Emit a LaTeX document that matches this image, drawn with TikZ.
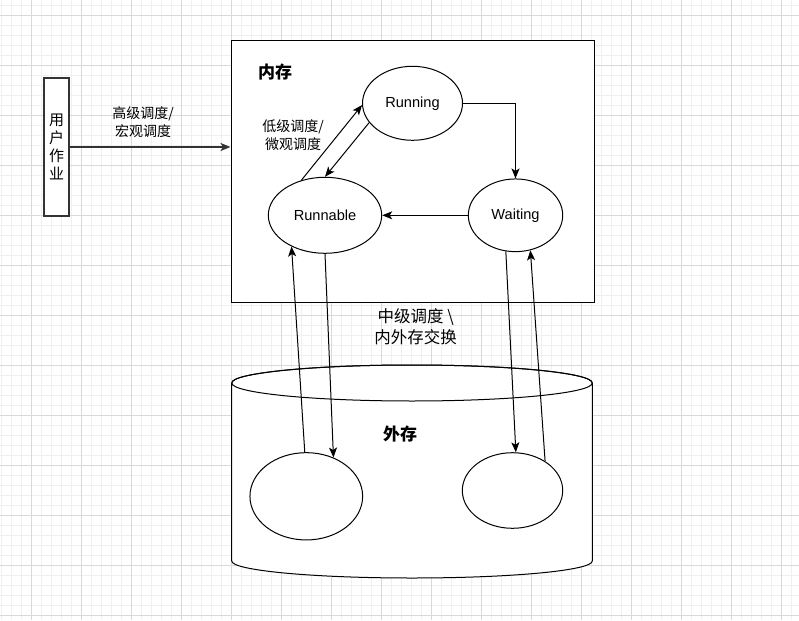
\documentclass[tikz,border=0pt]{standalone}
\usepackage{fontspec}
\setmainfont{Liberation Sans}
\newfontfamily\cjk{Noto Sans CJK SC}
\usetikzlibrary{shapes.geometric,arrows.meta}

\tikzset{
  gridminor/.style={draw=black!6, line width=0.8pt},
  gridmajor/.style={draw=black!15, line width=0.8pt},
  state/.style={ellipse, draw, fill=white, line width=1pt, inner sep=0pt, font=\fontsize{14.6}{17}\selectfont},
  flow/.style={line width=1pt, -{Stealth[length=10pt,width=8pt,inset=2.5pt]}},
  cnlabel/.style={align=center, font=\cjk\fontsize{14}{18}\selectfont},
  title/.style={font=\cjk\bfseries\fontsize{17}{20}\selectfont}
}

\begin{document}
\begin{tikzpicture}[x=1pt, y=-1pt]
\useasboundingbox (0,0) rectangle (799,620);
% grid
\foreach \x in {1.7,11.7,...,799} \draw[gridminor] (\x,0) -- (\x,620);
\foreach \y in {5,15,...,620} \draw[gridminor] (0,\y) -- (799,\y);
\foreach \x in {31.7,81.7,...,799} \draw[gridmajor] (\x,0) -- (\x,620);
\foreach \y in {15,65,...,620} \draw[gridmajor] (0,\y) -- (799,\y);

\node[draw=black!80, line width=1.3pt, fill=white, minimum width=25pt, minimum height=138pt, inner sep=0pt,
      align=center, font=\cjk\fontsize{15}{18}\selectfont] (job) at (56.5,147) {用\\户\\作\\业};
\node[draw, line width=1pt, fill=white, minimum width=363pt, minimum height=261pt, inner sep=0pt] (mem) at (412.5,171.5) {};
\node[title] (memlabel) at (275,72.5) {内存};

\node[state, minimum width=100pt, minimum height=74pt] (running) at (412.5,103.3) {Running};
\node[state, minimum width=113.4pt, minimum height=76pt] (runnable) at (325,215.3) {Runnable};
\node[state, minimum width=94.4pt, minimum height=72.7pt] (waiting) at (515.5,215.3) {Waiting};

% disk
\draw[line width=1pt, fill=white] (231.7,383) -- (231.7,561) arc[start angle=180, end angle=0, x radius=180.3, y radius=17]
  -- (592.3,383) arc[start angle=0, end angle=-180, x radius=180.3, y radius=18];
\draw[line width=1pt] (412,383) ellipse[x radius=180.3, y radius=18];
\node[title] (disklabel) at (400,434) {外存};
\node[state, minimum width=112.7pt, minimum height=87.3pt] (diska) at (306.3,496.3) {};
\node[state, minimum width=100.4pt, minimum height=75.6pt] (diskb) at (512.5,490.5) {};

\draw[flow, draw=black!80, line width=1.6pt] (job.east) -- (job.east -| mem.west);
\node[cnlabel] (highlabel) at (143,122) {高级调度/\\宏观调度};

\draw[flow] (running.east) -| (waiting.north);
\draw[flow] (waiting.west) -- (runnable.east);
\draw[flow] (runnable.124) -- (running.182);
\draw[flow] (running.204) -- (runnable.north);
\node[cnlabel] (lowlabel) at (293,135) {低级调度/\\微观调度};

\draw[flow] (diska.92) -- (runnable.223);
\draw[flow] (runnable.south) -- (diska.55);
\draw[flow] (waiting.255) -- (diskb.85);
\draw[flow] (diskb.42) -- (waiting.293);
\node[cnlabel, font=\cjk\fontsize{16.5}{20.6}\selectfont] (midlabel) at (415.7,327) {中级调度 \textbackslash\\内外存交换};
\end{tikzpicture}
\end{document}
